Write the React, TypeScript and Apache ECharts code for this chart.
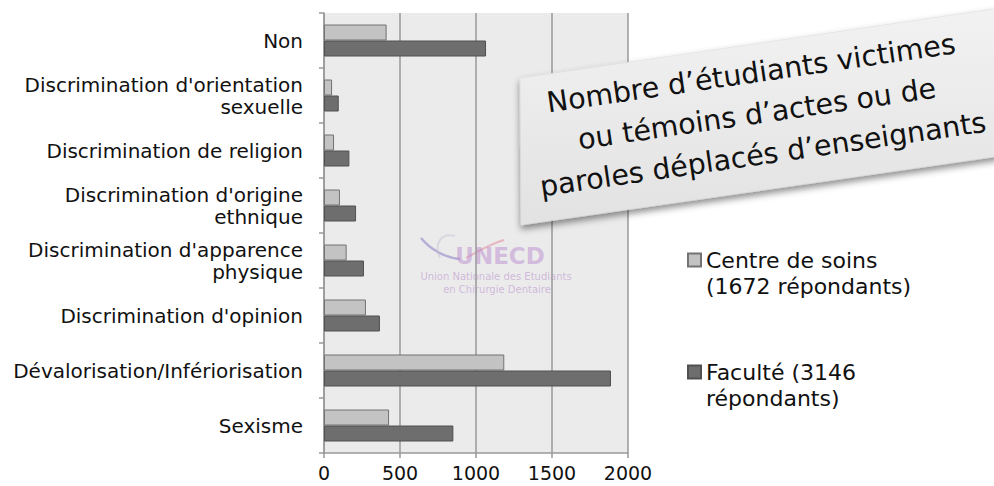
import React, { useEffect, useRef } from "react";
import * as echarts from "echarts";

const categories = [
  "Non",
  "Discrimination d'orientation\nsexuelle",
  "Discrimination de religion",
  "Discrimination d'origine\nethnique",
  "Discrimination d'apparence\nphysique",
  "Discrimination d'opinion",
  "Dévalorisation/Infériorisation",
  "Sexisme",
];
const centreValues = [412, 53, 66, 105, 149, 276, 1186, 428];
const faculteValues = [1066, 97, 167, 211, 263, 368, 1888, 851];
const seriesNames = ["Centre de soins\n(1672 répondants)", "Faculté (3146\nrépondants)"];
const xTicks = { min: 0, max: 2000, interval: 500 };
const titleLines = [
  "Nombre d’étudiants victimes",
  "ou témoins d’actes ou de",
  "paroles déplacés d’enseignants",
];

const FONT = "DejaVu Sans";

export default function App() {
  const ref = useRef<HTMLDivElement>(null);
  useEffect(() => {
    if (!ref.current) return;
    const chart = echarts.init(ref.current, null, { renderer: "svg" });
    const option: any = {
      animation: false,
      backgroundColor: "#ffffff",
      textStyle: { fontFamily: FONT },
      grid: {
        left: 324,
        right: 366,
        top: 13,
        bottom: 33,
        show: true,
        backgroundColor: "#ebebeb",
        borderWidth: 0,
        containLabel: false,
      },
      legend: {
        orient: "vertical",
        left: 687,
        top: 221,
        padding: 0,
        itemWidth: 13,
        itemHeight: 13,
        itemGap: 34,
        selectedMode: false,
        icon: "rect",
        data: seriesNames.map((n) => ({ name: n })),
        formatter: (n: string) => "\n" + n,
        textStyle: {
          fontFamily: FONT,
          fontSize: 22,
          color: "#111111",
          lineHeight: 26,
        },
      },
      xAxis: {
        type: "value",
        min: xTicks.min,
        max: xTicks.max,
        interval: xTicks.interval,
        axisLine: { show: true, lineStyle: { color: "#999999", width: 1.5 } },
        axisTick: { show: true, length: 5, lineStyle: { color: "#999999", width: 1.5 } },
        splitLine: { show: true, lineStyle: { color: "#999999", width: 1.5 } },
        axisLabel: {
          fontFamily: FONT,
          fontSize: 19,
          color: "#111111",
          margin: 10,
          formatter: (v: number) => String(v),
        },
      },
      yAxis: {
        type: "category",
        inverse: true,
        data: categories,
        axisLine: { show: true, lineStyle: { color: "#999999", width: 1.5 } },
        axisTick: { show: true, length: 5, alignWithLabel: false, lineStyle: { color: "#999999", width: 1.5 } },
        axisLabel: {
          fontFamily: FONT,
          fontSize: 20,
          color: "#111111",
          margin: 21,
          lineHeight: 22,
          align: "right",
        },
      },
      series: [
        {
          name: seriesNames[0],
          type: "bar",
          data: centreValues,
          barWidth: 16,
          barGap: "0%",
          itemStyle: { color: "#c3c3c3", borderColor: "#737373", borderWidth: 1 },
        },
        {
          name: seriesNames[1],
          type: "bar",
          data: faculteValues,
          barWidth: 16,
          barGap: "0%",
          itemStyle: { color: "#6e6e6e", borderColor: "#505050", borderWidth: 1 },
        },
      ],
      graphic: [
        // watermark
        {
          type: "group",
          z: 1,
          silent: true,
          children: [
            {
              type: "bezierCurve",
              shape: { x1: 421, y1: 238, cpx1: 430, cpy1: 249, cpx2: 445, cpy2: 258, x2: 460, y2: 259 },
              style: { stroke: "rgba(120,100,190,0.45)", lineWidth: 2.5, fill: null },
            },
            {
              type: "bezierCurve",
              shape: { x1: 440, y1: 258, cpx1: 434, cpy1: 245, cpx2: 440, cpy2: 232, x2: 455, y2: 236 },
              style: { stroke: "rgba(200,190,210,0.45)", lineWidth: 2, fill: null },
            },
            {
              type: "bezierCurve",
              shape: { x1: 466, y1: 258, cpx1: 480, cpy1: 250, cpx2: 493, cpy2: 243, x2: 504, y2: 240 },
              style: { stroke: "rgba(225,120,140,0.45)", lineWidth: 2, fill: null },
            },
            {
              type: "text",
              x: 500,
              y: 256,
              style: {
                text: "UNECD",
                fontFamily: FONT,
                fontSize: 23,
                fontWeight: "bold",
                fill: "rgba(185,140,205,0.5)",
                align: "center",
                verticalAlign: "middle",
              },
            },
            {
              type: "text",
              x: 496,
              y: 276,
              style: {
                text: "Union Nationale des Etudiants",
                fontFamily: FONT,
                fontSize: 10,
                fill: "rgba(185,140,205,0.55)",
                align: "center",
                verticalAlign: "middle",
              },
            },
            {
              type: "text",
              x: 497,
              y: 289,
              style: {
                text: "en Chirurgie Dentaire",
                fontFamily: FONT,
                fontSize: 10,
                fill: "rgba(185,140,205,0.55)",
                align: "center",
                verticalAlign: "middle",
              },
            },
          ],
        },
        // title card
        {
          type: "polygon",
          z: 20,
          silent: true,
          shape: { points: [[520, 78], [1000, 8], [1000, 156], [521, 225]] },
          style: {
            fill: {
              type: "linear",
              x: 0,
              y: 0,
              x2: 0,
              y2: 1,
              colorStops: [
                { offset: 0, color: "#f2f2f2" },
                { offset: 1, color: "#e2e2e2" },
              ],
            },
            stroke: "#d8d8d8",
            lineWidth: 0.5,
            shadowBlur: 7,
            shadowOffsetX: 0,
            shadowOffsetY: 4,
            shadowColor: "rgba(0,0,0,0.45)",
          },
        },
        {
          type: "text",
          z: 21,
          silent: true,
          x: 757,
          y: 114,
          rotation: 0.144,
          style: {
            text: titleLines.join("\n"),
            fontFamily: FONT,
            fontSize: 28.5,
            lineHeight: 41,
            fill: "#111111",
            align: "center",
            verticalAlign: "middle",
          },
        },
      ],
    };
    chart.setOption(option);
    return () => chart.dispose();
  }, []);
  return <div ref={ref} style={{ width: 994, height: 486, position: "absolute", left: 0, top: 0 }} />;
}
